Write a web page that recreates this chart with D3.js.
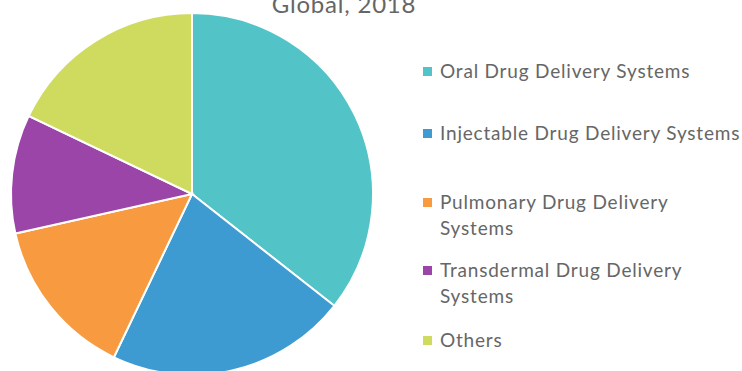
<!DOCTYPE html>
<html>
<head>
<meta charset="utf-8">
<script src="https://cdn.jsdelivr.net/npm/d3@7"></script>
<style>
  body { margin: 0; background: #fff; }
  text { font-family: Lato, "Open Sans", sans-serif; }
</style>
</head>
<body>
<svg width="742" height="371"></svg>
<script>
var segments = ["Oral Drug Delivery Systems", "Injectable Drug Delivery Systems", "Pulmonary Drug Delivery Systems", "Transdermal Drug Delivery Systems", "Others"];
var legendLines = [["Oral Drug Delivery Systems"], ["Injectable Drug Delivery Systems"], ["Pulmonary Drug Delivery", "Systems"], ["Transdermal Drug Delivery", "Systems"], ["Others"]];
var shares = [35.6, 21.5, 14.4, 10.6, 17.9];
var colors = ["#52c3c6", "#3e9bd2", "#f89a3f", "#9b45a8", "#cedb5e"];
var legendY = [71, 133, 202, 270, 340];

var svg = d3.select("svg"),
    width = +svg.attr("width"),
    height = +svg.attr("height");

var radius = 181;

var color = d3.scaleOrdinal().domain(segments).range(colors);

var pie = d3.pie().sort(null).value(function (d, i) { return shares[i]; });
var arc = d3.arc().innerRadius(0).outerRadius(radius);

var g = svg.append("g")
    .attr("transform", "translate(192,194)");

g.selectAll("path")
    .data(pie(segments))
    .enter().append("path")
    .attr("d", arc)
    .attr("fill", function (d) { return color(d.data); })
    .attr("stroke", "#fff")
    .attr("stroke-width", 2);

// title sits partly above the top edge, as in the source image
svg.append("text")
    .attr("x", 344)
    .attr("y", 13)
    .attr("text-anchor", "middle")
    .attr("font-size", 24)
    .attr("letter-spacing", 0.8)
    .attr("fill", "#666")
    .text("Global, 2018");

var legend = svg.append("g").selectAll("g")
    .data(segments)
    .enter().append("g")
    .attr("transform", function (d, i) { return "translate(423," + legendY[i] + ")"; });

legend.append("rect")
    .attr("x", 0)
    .attr("y", -4)
    .attr("width", 9)
    .attr("height", 9)
    .attr("fill", function (d) { return color(d); });

legend.append("text")
    .attr("font-size", 19)
    .attr("letter-spacing", 0.8)
    .attr("fill", "#666")
    .selectAll("tspan")
    .data(function (d, i) { return legendLines[i]; })
    .enter().append("tspan")
    .attr("x", 17)
    .attr("y", function (d, j) { return j * 26; })
    .attr("dy", "0.35em")
    .text(function (d) { return d; });
</script>
</body>
</html>
